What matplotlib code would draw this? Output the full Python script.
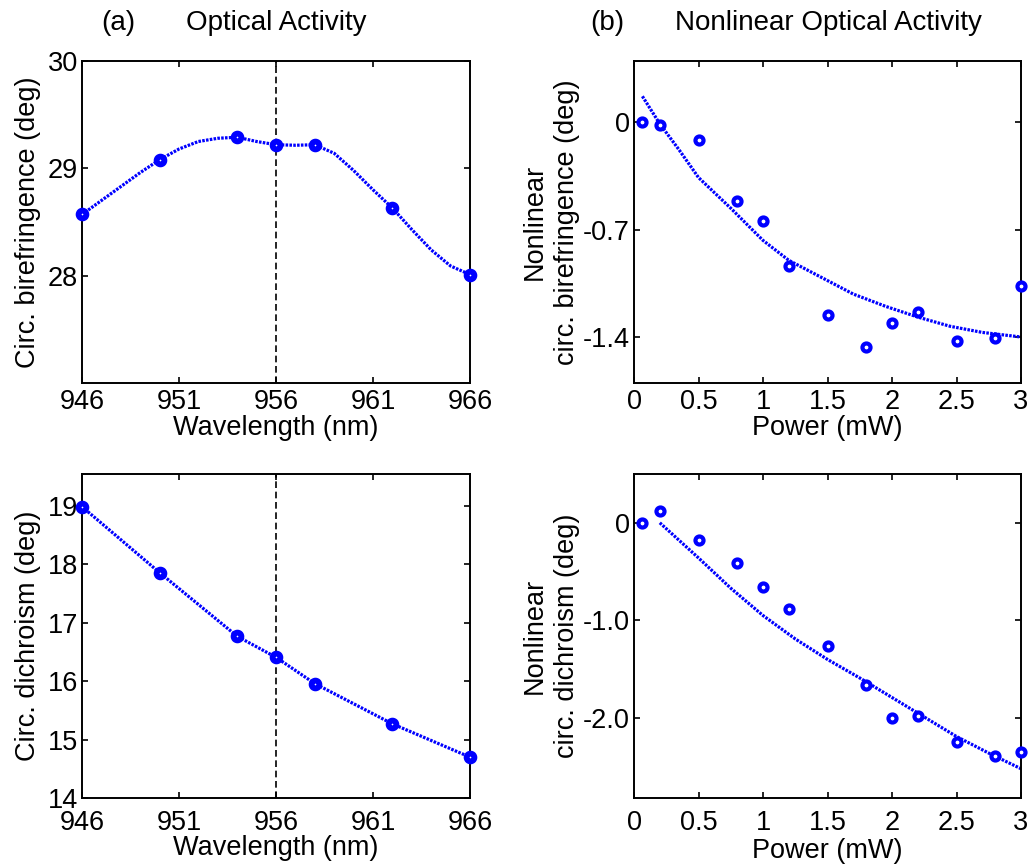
import numpy as np
import matplotlib
matplotlib.use("Agg")
import matplotlib.pyplot as plt

plt.rcParams['font.family'] = ['Liberation Sans', 'DejaVu Sans']
plt.rcParams['font.size'] = 19.5

# --- (a) optical activity vs wavelength ---
wl = [946, 950, 954, 956, 958, 962, 966]
biref = [28.57, 29.08, 29.29, 29.22, 29.22, 28.63, 28.01]
dichro = [18.99, 17.86, 16.77, 16.41, 15.96, 15.27, 14.70]

# smooth guide curve through the birefringence points
biref_curve_x = [946, 947, 948, 949, 950, 951, 952, 953, 954, 955, 956, 957, 958,
                 959, 960, 961, 962, 963, 964, 965, 966]
biref_curve_y = [28.57, 28.70, 28.83, 28.96, 29.08, 29.18, 29.25, 29.28, 29.29, 29.25,
                 29.22, 29.215, 29.22, 29.14, 28.98, 28.80, 28.63, 28.43, 28.24, 28.09, 28.01]

wl_ticks = [946, 951, 956, 961, 966]
wl_marker = 956

# --- (b) nonlinear optical activity vs power ---
power = [0.06, 0.2, 0.5, 0.8, 1.0, 1.2, 1.5, 1.8, 2.0, 2.2, 2.5, 2.8, 3.0]
nl_biref = [0.0, -0.017, -0.115, -0.514, -0.642, -0.935, -1.254, -1.465, -1.306,
            -1.237, -1.426, -1.404, -1.068]
nl_dichro = [0.0, 0.125, -0.18, -0.41, -0.657, -0.88, -1.26, -1.664, -2.0,
             -1.98, -2.25, -2.39, -2.345]

fit_b_x = [0.065, 0.2, 0.35, 0.5, 0.75, 1.0, 1.2, 1.45, 1.7, 1.95, 2.2, 2.45, 2.7, 3.0]
fit_b_y = [0.17, -0.01, -0.18, -0.36, -0.56, -0.77, -0.90, -1.01, -1.12, -1.20,
           -1.27, -1.33, -1.37, -1.40]
fit_d_x = [0.2, 0.5, 0.75, 1.0, 1.25, 1.5, 1.75, 2.0, 2.25, 2.5, 2.75, 3.0]
fit_d_y = [0.0, -0.36, -0.67, -0.95, -1.19, -1.40, -1.59, -1.79, -1.99, -2.19,
           -2.36, -2.52]

power_ticks = [0, 0.5, 1, 1.5, 2, 2.5, 3]
power_labels = ['0', '0.5', '1', '1.5', '2', '2.5', '3']
nlb_ticks = [-1.4, -0.7, 0]
nlb_labels = ['-1.4', '-0.7', '0']
nld_ticks = [-2.0, -1.0, 0]
nld_labels = ['-2.0', '-1.0', '0']

W, H = 1034, 868
fig = plt.figure(figsize=(W / 100, H / 100), dpi=100)


def box(px_left, px_top, px_right, px_bottom):
    return fig.add_axes([px_left / W, 1 - px_bottom / H,
                         (px_right - px_left) / W, (px_bottom - px_top) / H])


def style(ax, xpad=4):
    for s in ax.spines.values():
        s.set_linewidth(1.4)
    ax.tick_params(direction='in', top=True, right=True, length=4, width=1.2,
                   pad=3, labelsize=19.5)
    ax.tick_params(axis='x', pad=xpad)


dot = (0, (0.8, 0.4))
blue = (0, 0, 1)

ax1 = box(82, 61, 470, 383)
ax2 = box(634, 61, 1021, 383)
ax3 = box(82, 474, 470, 798)
ax4 = box(634, 474, 1021, 798)

# (a) top: birefringence
ax1.plot(biref_curve_x, biref_curve_y, color=blue, lw=2.3, ls=dot)
ax1.plot(wl, biref, 'o', color=blue, ms=5.6, mew=4.2, mfc='white', clip_on=False, zorder=3)
ax1.axvline(wl_marker, color='k', lw=1.2, ls=(0, (4, 2.2)))
ax1.set_xlim(946, 966)
ax1.set_ylim(27, 30)
ax1.set_xticks(wl_ticks)
ax1.set_yticks([28, 29, 30])
ax1.set_xlabel('Wavelength (nm)', labelpad=0)
ax1.set_ylabel('Circ. birefringence (deg)', labelpad=5)

# (a) bottom: dichroism
ax3.plot(wl, dichro, color=blue, lw=2.3, ls=dot)
ax3.plot(wl, dichro, 'o', color=blue, ms=5.6, mew=4.2, mfc='white', clip_on=False, zorder=3)
ax3.axvline(wl_marker, color='k', lw=1.2, ls=(0, (4, 2.2)))
ax3.set_xlim(946, 966)
ax3.set_ylim(14, 19.55)
ax3.set_xticks(wl_ticks)
ax3.set_yticks([14, 15, 16, 17, 18, 19])
ax3.set_xlabel('Wavelength (nm)', labelpad=-1)
ax3.set_ylabel('Circ. dichroism (deg)', labelpad=5)

# (b) top: nonlinear birefringence
ax2.plot(fit_b_x, fit_b_y, color=blue, lw=2.3, ls=dot)
ax2.plot(power, nl_biref, 'o', color=blue, ms=5.8, mew=3.0, mfc='white', clip_on=False, zorder=3)
ax2.set_xlim(0, 3)
ax2.set_ylim(-1.7, 0.4)
ax2.set_xticks(power_ticks, power_labels)
ax2.set_yticks(nlb_ticks, nlb_labels)
ax2.set_xlabel('Power (mW)', labelpad=0)
ax2.set_ylabel('Nonlinear\ncirc. birefringence (deg)', linespacing=1.3, labelpad=2)

# (b) bottom: nonlinear dichroism
ax4.plot(fit_d_x, fit_d_y, color=blue, lw=2.3, ls=dot)
ax4.plot(power, nl_dichro, 'o', color=blue, ms=5.8, mew=3.0, mfc='white', clip_on=False, zorder=3)
ax4.set_xlim(0, 3)
ax4.set_ylim(-2.82, 0.5)
ax4.set_xticks(power_ticks, power_labels)
ax4.set_yticks(nld_ticks, nld_labels)
ax4.set_xlabel('Power (mW)', labelpad=1)
ax4.set_ylabel('Nonlinear\ncirc. dichroism (deg)', linespacing=1.3, labelpad=2)

style(ax1)
style(ax2)
style(ax3, xpad=9)
style(ax4, xpad=9)

fig.text(118 / W, 1 - 23 / H, '(a)', ha='center', va='center', fontsize=20)
fig.text(276 / W, 1 - 23 / H, 'Optical Activity', ha='center', va='center', fontsize=20)
fig.text(607 / W, 1 - 23 / H, '(b)', ha='center', va='center', fontsize=20)
fig.text(828 / W, 1 - 23 / H, 'Nonlinear Optical Activity', ha='center', va='center', fontsize=20)

fig.savefig('out.png', dpi=100)
